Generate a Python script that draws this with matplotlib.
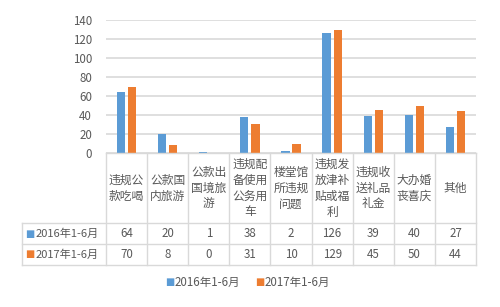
import matplotlib
matplotlib.use("Agg")
import matplotlib.pyplot as plt

plt.rcParams['font.family'] = ['Noto Sans CJK SC', 'DejaVu Sans']

categories = ["违规公\n款吃喝", "公款国\n内旅游", "公款出\n国境旅\n游", "违规配\n备使用\n公务用\n车",
              "楼堂馆\n所违规\n问题", "违规发\n放津补\n贴或福\n利", "违规收\n送礼品\n礼金",
              "大办婚\n丧喜庆", "其他"]
series_names = ["2016年1-6月", "2017年1-6月"]
values_2016 = [64, 20, 1, 38, 2, 126, 39, 40, 27]
values_2017 = [70, 8, 0, 31, 10, 129, 45, 50, 44]
yticks = [0, 20, 40, 60, 80, 100, 120, 140]

blue = "#5B9BD5"
orange = "#ED7D31"
txt = "#595959"
grid = "#D9D9D9"

W, H = 500, 307
fig = plt.figure(figsize=(W / 100, H / 100), dpi=100)

def fx(p):
    return p / W

def fy(p):
    return 1 - p / H

px_left, px_right = 106, 476
px_top, px_zero = 20, 153
ax = fig.add_axes([fx(px_left), fy(px_zero), fx(px_right - px_left), (px_zero - px_top) / H])
n = len(categories)
x = list(range(n))
bw = 0.2
off = 0.135
ax.bar([i - off for i in x], values_2016, width=bw, color=blue, label=series_names[0], zorder=3)
ax.bar([i + off for i in x], values_2017, width=bw, color=orange, label=series_names[1], zorder=3)
ax.set_xlim(-0.5, n - 0.5)
ax.set_ylim(0, 140)
ax.set_yticks(yticks)
ax.set_yticklabels([str(v) for v in yticks], color=txt, fontsize=8.3)
ax.tick_params(axis='y', length=0, pad=10)
ax.set_xticks([])
for s in ax.spines.values():
    s.set_visible(False)
ax.grid(axis='y', color=grid, linewidth=1.2, zorder=0)

# Table axes
row_tops = [153, 223, 244, 265]
tax = fig.add_axes([fx(px_left), fy(265), fx(px_right - px_left), (265 - 153) / H])
tax.set_xlim(-0.5, n - 0.5)
tax.set_ylim(265, 153)
tax.axis('off')
unit = (px_right - px_left) / n
label_left = -0.5 - (px_left - 22) / unit

lk = dict(color=grid, linewidth=1, clip_on=False)
tax.plot([-0.5, n - 0.5], [153, 153], **lk)
for yy in row_tops[1:]:
    tax.plot([label_left, n - 0.5], [yy, yy], **lk)
for i in range(n + 1):
    tax.plot([i - 0.5, i - 0.5], [153, 265], **lk)
tax.plot([label_left, label_left], [223, 265], **lk)

for i, c in enumerate(categories):
    tax.text(i, 188, c, ha='center', va='center', fontsize=8.5, color=txt,
             linespacing=1.3, clip_on=False)
for r, (vals, col, name) in enumerate([(values_2016, blue, series_names[0]),
                                        (values_2017, orange, series_names[1])]):
    yc = (row_tops[r + 1] + row_tops[r + 2]) / 2
    for i, v in enumerate(vals):
        tax.text(i, yc, str(v), ha='center', va='center', fontsize=8.3, color=txt)
    tax.text(label_left + 8 / unit, yc, "■", ha='center', va='center', fontsize=7,
             color=col, clip_on=False, family=['DejaVu Sans'])
    tax.text(label_left + 14 / unit, yc, name, ha='left', va='center', fontsize=8,
             color=txt, clip_on=False)

# legend
fig.text(fx(170), fy(282), "■", ha='center', va='center', fontsize=7, color=blue, family=['DejaVu Sans'])
fig.text(fx(175), fy(282), series_names[0], ha='left', va='center', fontsize=8.3, color=txt)
fig.text(fx(260), fy(282), "■", ha='center', va='center', fontsize=7, color=orange, family=['DejaVu Sans'])
fig.text(fx(265), fy(282), series_names[1], ha='left', va='center', fontsize=8.3, color=txt)

fig.savefig("out.png", dpi=100)
